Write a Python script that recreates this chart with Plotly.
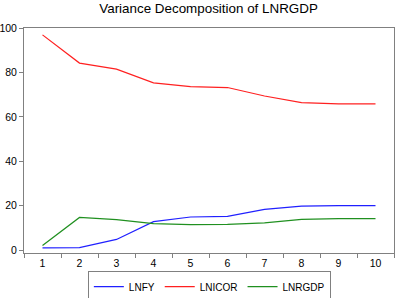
import plotly.graph_objects as go

periods = ["1", "2", "3", "4", "5", "6", "7", "8", "9", "10"]
lnfy = [1.0, 1.1, 4.8, 12.8, 14.9, 15.2, 18.3, 19.8, 20.0, 20.0]
lnicor = [96.9, 84.2, 81.5, 75.3, 73.6, 73.2, 69.4, 66.4, 65.8, 65.8]
lnrgdp = [2.1, 14.7, 13.7, 11.9, 11.5, 11.6, 12.3, 13.8, 14.2, 14.2]

fig = go.Figure()
fig.add_trace(go.Scatter(x=periods, y=lnfy, mode="lines", name="LNFY",
                         line=dict(color="#2020ff", width=1.2)))
fig.add_trace(go.Scatter(x=periods, y=lnicor, mode="lines", name="LNICOR",
                         line=dict(color="#ff2020", width=1.2)))
fig.add_trace(go.Scatter(x=periods, y=lnrgdp, mode="lines", name="LNRGDP",
                         line=dict(color="#209020", width=1.2)))

axis_col = "#808080"
fig.update_layout(
    width=395, height=298,
    margin=dict(l=24, r=1, t=28, b=45, autoexpand=False),
    paper_bgcolor="white", plot_bgcolor="white",
    font=dict(family="Liberation Sans, Arial, sans-serif", size=10.5, color="black"),
    title=dict(text="Variance Decomposition of LNRGDP", x=0.528, xanchor="center",
               y=0.973, yanchor="middle", font=dict(size=13.4)),
    showlegend=True,
    legend=dict(orientation="h", xref="container", yref="container",
                x=0.53, xanchor="center", y=0.09, yanchor="top",
                bordercolor=axis_col, borderwidth=1, font=dict(size=10),
                itemwidth=30, tracegroupgap=0),
    xaxis=dict(type="category", range=[-0.5, 9.5], tickson="boundaries",
               ticks="outside", ticklen=4, automargin=False,
               tickcolor=axis_col, showline=True, linecolor=axis_col, linewidth=1,
               mirror=True, showgrid=False, zeroline=False),
    yaxis=dict(range=[-1.3, 100], tickvals=[0, 20, 40, 60, 80, 100], ticks="outside",
               ticklen=4, tickcolor=axis_col, showline=True, linecolor=axis_col,
               linewidth=1, mirror=True, showgrid=False, zeroline=False,
               automargin=False),
)

fig.write_html("out.html", config={"displayModeBar": False},
               post_script="document.body.style.margin='0px';document.body.style.overflow='hidden';")
